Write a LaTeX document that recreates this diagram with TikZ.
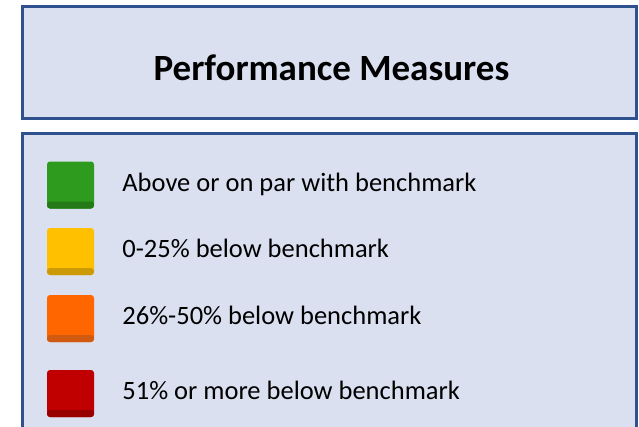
\documentclass[tikz,border=0pt]{standalone}
\usepackage{fontspec}
\setmainfont{Carlito}
\usetikzlibrary{positioning}

\definecolor{panelfill}{HTML}{DAE0F0}
\definecolor{panelline}{HTML}{2F528F}
\definecolor{good}{HTML}{2E9B1E}
\definecolor{gooddark}{HTML}{237A16}
\definecolor{mild}{HTML}{FFC000}
\definecolor{milddark}{HTML}{CC9A06}
\definecolor{poor}{HTML}{FF6600}
\definecolor{poordark}{HTML}{D05A10}
\definecolor{bad}{HTML}{C00000}
\definecolor{baddark}{HTML}{980000}

\tikzset{
  panel/.style={draw=panelline, fill=panelfill, line width=3pt},
  swatch/.style={minimum size=47pt, inner sep=0pt, rounded corners=3pt, fill=#1,
    path picture={\fill[#1dark] ([yshift=7pt]path picture bounding box.south west)
      rectangle (path picture bounding box.south east);}},
  label/.style={font=\fontsize{26.5}{32}\selectfont, inner sep=0pt,
    text height=18pt, text depth=6pt}
}

\begin{document}
\begin{tikzpicture}[x=1pt, y=-1pt]

  % Page frame
  \useasboundingbox (0,0) rectangle (639,426);
  \clip (0,0) rectangle (639,426);

  % Heading panel
  \draw[panel] (22.5,6.5) rectangle (636.5,118.5);
  \node[anchor=base, inner sep=0pt, font=\bfseries\fontsize{37}{44}\selectfont]
    (title) at (331.5,80) {Performance Measures};

  % Legend panel, runs off the bottom edge
  \draw[panel] (22.5,133.5) rectangle (636.5,440);

  % Coloured keys
  \node[swatch=good] (green) at (70.5,185) {};
  \node[swatch=mild] (yellow) at (70.5,251.5) {};
  \node[swatch=poor] (orange) at (70.5,318.5) {};
  \node[swatch=bad] (red) at (70.5,393.5) {};

  % Their meanings
  \node[label, right=28pt of green] (above) {Above or on par with benchmark};
  \node[label, right=28pt of yellow] (quarter) {0-25\% below benchmark};
  \node[label, right=28pt of orange] (half) {26\%-50\% below benchmark};
  \node[label, right=28pt of red] (more) {51\% or more below benchmark};

\end{tikzpicture}
\end{document}
